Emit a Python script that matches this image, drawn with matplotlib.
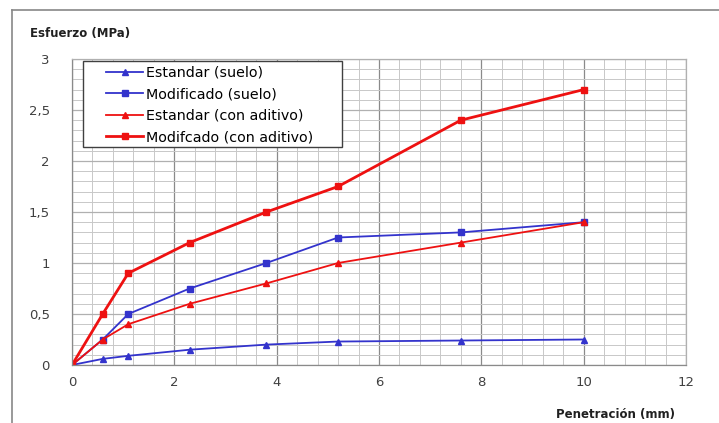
import matplotlib.pyplot as plt
from matplotlib.patches import Rectangle
import numpy as np

penetracion = [0, 0.6, 1.1, 2.3, 3.8, 5.2, 7.6, 10]
est_suelo = [0, 0.06, 0.09, 0.15, 0.2, 0.23, 0.24, 0.25]
mod_suelo = [0, 0.25, 0.5, 0.75, 1.0, 1.25, 1.3, 1.4]
est_aditivo = [0, 0.25, 0.4, 0.6, 0.8, 1.0, 1.2, 1.4]
mod_aditivo = [0, 0.5, 0.9, 1.2, 1.5, 1.75, 2.4, 2.7]
labels = ['Estandar (suelo)', 'Modificado (suelo)',
          'Estandar (con aditivo)', 'Modifcado (con aditivo)']

plt.rcParams['font.family'] = ['DejaVu Sans']

blue = '#3333cc'
red = '#ee1111'
W, H = 719, 423

fig = plt.figure(figsize=(7.19, 4.23), dpi=100)
ax = fig.add_axes([72 / W, 1 - 365 / H, 614 / W, 306 / H])

ax.plot(penetracion, est_suelo, color=blue, lw=1.3, marker='^', ms=5, label=labels[0])
ax.plot(penetracion, mod_suelo, color=blue, lw=1.3, marker='s', ms=4.5, label=labels[1])
ax.plot(penetracion, est_aditivo, color=red, lw=1.3, marker='^', ms=5, label=labels[2])
ax.plot(penetracion, mod_aditivo, color=red, lw=2.0, marker='s', ms=5, label=labels[3])

ax.set_xlim(0, 12)
ax.set_ylim(0, 3)
ax.set_xticks(np.arange(0, 13, 2))
ax.set_yticks(np.arange(0, 3.01, 0.5))
ax.set_yticklabels(['0', '0,5', '1', '1,5', '2', '2,5', '3'])
ax.set_xticks(np.arange(0, 12.01, 0.4), minor=True)
ax.set_yticks(np.arange(0, 3.01, 0.1), minor=True)
ax.grid(which='major', axis='x', color='#8a8a8a', lw=0.9)
ax.grid(which='major', axis='y', color='#b0b0b0', lw=0.9)
ax.grid(which='minor', color='#c8c8c8', lw=0.7)
ax.set_axisbelow(True)
ax.tick_params(which='both', length=0, colors='#404040', labelsize=9.5)
ax.tick_params(axis='y', pad=16)
ax.tick_params(axis='x', pad=8)
for s in ax.spines.values():
    s.set_color('#b0b0b0')
    s.set_linewidth(0.9)
for s in ['left', 'bottom']:
    ax.spines[s].set_color('#8a8a8a')

# legend box drawn by hand so the frame matches the original
fig.add_artist(Rectangle((83 / W, 1 - 147 / H), 259 / W, 86 / H, transform=fig.transFigure,
                         facecolor='white', edgecolor='#404040', lw=1.0, zorder=4))
handles, labs = ax.get_legend_handles_labels()
fig.legend(handles, labs, loc='upper left', bbox_to_anchor=(106 / W, 1 - 66 / H),
           fontsize=10.3, frameon=False, handlelength=2.6, labelspacing=0.52,
           borderpad=0, borderaxespad=0, handletextpad=0.2)

fig.text(30 / W, 1 - 33 / H, 'Esfuerzo (MPa)', fontsize=8.5, fontweight='bold',
         ha='left', va='center', color='#202020')
fig.text(675 / W, 1 - 414 / H, 'Penetración (mm)', fontsize=8.5, fontweight='bold',
         ha='right', va='center', color='#202020')

# outer chart border (left and top edges)
fig.add_artist(plt.Line2D([12 / W, 12 / W], [0, 1 - 10 / H], color='#888888', lw=1.2))
fig.add_artist(plt.Line2D([12 / W, 1], [1 - 10 / H, 1 - 10 / H], color='#888888', lw=1.2))

fig.savefig('out.png', dpi=100)
